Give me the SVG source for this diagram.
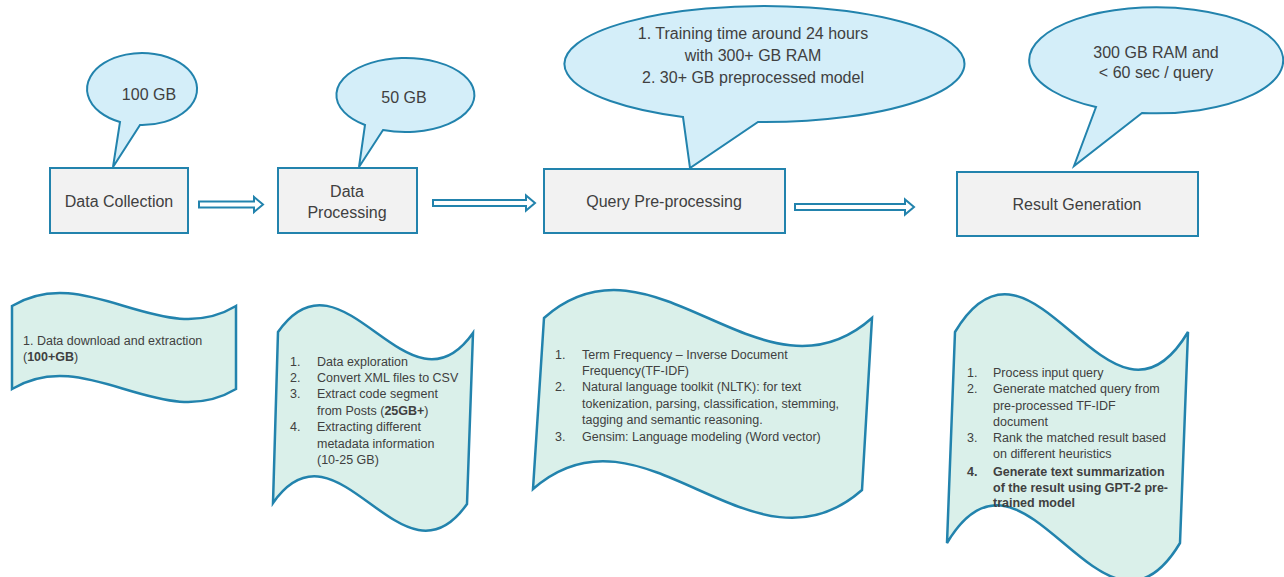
<svg xmlns="http://www.w3.org/2000/svg" width="1284" height="577" viewBox="0 0 1284 577">
<style>
.box{fill:#f2f2f2;stroke:#2283ad;stroke-width:2}
.call{fill:#d4eef9;stroke:#2283ad;stroke-width:2;stroke-linejoin:miter}
.wave{fill:#daf0ea;stroke:#2283ad;stroke-width:2.5}
.arr{fill:#ffffff;stroke:#2283ad;stroke-width:2}
text{font-family:"Liberation Sans",Arial,sans-serif;fill:#404040}
.lbl{font-size:16px}
.sm{font-size:12.5px}
.b{font-weight:bold}
</style>
<rect width="1284" height="577" fill="#ffffff"/>

<g id="callout-100gb">
<path class="call" d="M120,122 A55,36 0 1 1 140,125 L113,167 Z"/>
<text class="lbl" x="149" y="100" text-anchor="middle">100 GB</text>
</g>
<g id="callout-50gb">
<path class="call" d="M365,125 A69,37 0 1 1 383,130 L359,167 Z"/>
<text class="lbl" x="404" y="103" text-anchor="middle">50 GB</text>
</g>
<g id="callout-training">
<path class="call" d="M683,117 A200,58 0 1 1 758,122 L690,168 Z"/>
<text class="lbl" x="753" y="39" text-anchor="middle">1. Training time around 24 hours</text>
<text class="lbl" x="753" y="61" text-anchor="middle">with 300+ GB RAM</text>
<text class="lbl" x="753" y="83" text-anchor="middle">2. 30+ GB preprocessed model</text>
</g>
<g id="callout-ram">
<path class="call" d="M1096,107 A127,53 0 1 1 1142,113 L1074,166 Z"/>
<text class="lbl" x="1156" y="58" text-anchor="middle">300 GB RAM and</text>
<text class="lbl" x="1156" y="78" text-anchor="middle">&lt; 60 sec / query</text>
</g>

<g id="data-collection">
<rect class="box" x="50" y="168" width="138" height="65"/>
<text class="lbl" x="119" y="207" text-anchor="middle">Data Collection</text>
</g>
<g id="data-processing">
<rect class="box" x="278" y="168" width="139" height="65"/>
<text class="lbl" x="347" y="197" text-anchor="middle">Data</text>
<text class="lbl" x="347" y="218" text-anchor="middle">Processing</text>
</g>
<g id="query-preprocessing">
<rect class="box" x="544" y="169" width="241" height="64"/>
<text class="lbl" x="664" y="207" text-anchor="middle">Query Pre-processing</text>
</g>
<g id="result-generation">
<rect class="box" x="957" y="172" width="241" height="64"/>
<text class="lbl" x="1077" y="210" text-anchor="middle">Result Generation</text>
</g>

<g id="connectors">
<polygon class="arr" points="199,201.5 254,201.5 254,197 263,204.5 254,212 254,207.5 199,207.5"/>
<polygon class="arr" points="433,200 526,200 526,195.5 535,203 526,210.5 526,206 433,206"/>
<polygon class="arr" points="795,204 905,204 905,199.5 914,207 905,214.5 905,210 795,210"/>
</g>

<g id="wave-collection">
<path class="wave" d="M12,306 C87,261 161,351 236,306 L236,389 C161,434 87,344 12,389 Z"/>
<text class="sm" x="23" y="345">1. Data download and extraction</text>
<text class="sm" x="23" y="361">(<tspan class="b">100+GB</tspan>)</text>
</g>
<g id="wave-processing">
<path class="wave" d="M278,332 C343,239 408,425 473,333 L467,504 C402,597 338,410 273,503 Z"/>
<text class="sm" x="290" y="365.5">1.</text><text class="sm" x="317" y="365.5">Data exploration</text>
<text class="sm" x="290" y="381.5">2.</text><text class="sm" x="317" y="381.5">Convert XML files to CSV</text>
<text class="sm" x="290" y="398">3.</text><text class="sm" x="317" y="398">Extract code segment</text>
<text class="sm" x="317" y="414.5">from Posts (<tspan class="b">25GB+</tspan>)</text>
<text class="sm" x="290" y="431">4.</text><text class="sm" x="317" y="431">Extracting different</text>
<text class="sm" x="317" y="447.5">metadata information</text>
<text class="sm" x="317" y="463.5">(10-25 GB)</text>
</g>
<g id="wave-query">
<path class="wave" d="M544,318 C653,221 763,415 872,318 L862,490 C752,587 643,392 533,489 Z"/>
<text class="sm" x="555" y="358.5">1.</text><text class="sm" x="582" y="358.5">Term Frequency – Inverse Document</text>
<text class="sm" x="582" y="374.5">Frequency(TF-IDF)</text>
<text class="sm" x="555" y="391">2.</text><text class="sm" x="582" y="391">Natural language toolkit (NLTK): for text</text>
<text class="sm" x="582" y="407.5">tokenization, parsing, classification, stemming,</text>
<text class="sm" x="582" y="423.5">tagging and semantic reasoning.</text>
<text class="sm" x="555" y="440.5">3.</text><text class="sm" x="582" y="440.5">Gensim: Language modeling (Word vector)</text>
</g>
<g id="wave-result">
<path class="wave" d="M955,332 C1033,201 1110,463 1188,332 L1180,543 C1102,674 1025,412 947,543 Z"/>
<text class="sm" x="967" y="377">1.</text><text class="sm" x="993" y="377">Process input query</text>
<text class="sm" x="967" y="393">2.</text><text class="sm" x="993" y="393">Generate matched query from</text>
<text class="sm" x="993" y="410">pre-processed TF-IDF</text>
<text class="sm" x="993" y="426">document</text>
<text class="sm" x="967" y="442">3.</text><text class="sm" x="993" y="442">Rank the matched result based</text>
<text class="sm" x="993" y="458">on different heuristics</text>
<text class="sm b" x="967" y="476">4.</text><text class="sm b" x="993" y="476">Generate text summarization</text>
<text class="sm b" x="993" y="492">of the result using GPT-2 pre-</text>
<text class="sm b" x="993" y="507">trained model</text>
</g>
</svg>
